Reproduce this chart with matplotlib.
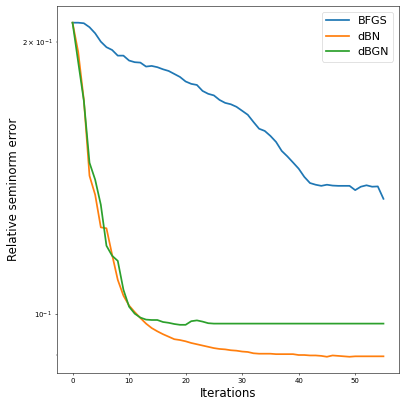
import matplotlib
matplotlib.use("Agg")
import matplotlib.pyplot as plt
import numpy as np

# relative seminorm error per iteration
iters = np.arange(56)

bfgs = [0.2099, 0.2099, 0.2096, 0.2075, 0.2043, 0.2000, 0.1972, 0.1958, 0.1930, 0.1930,
        0.1906, 0.1898, 0.1896, 0.1877, 0.1880, 0.1874, 0.1864, 0.1856, 0.1842, 0.1828,
        0.1807, 0.1796, 0.1791, 0.1764, 0.1751, 0.1744, 0.1724, 0.1711, 0.1705, 0.1694,
        0.1677, 0.1660, 0.1630, 0.1602, 0.1593, 0.1573, 0.1549, 0.1514, 0.1493, 0.1470,
        0.1447, 0.1417, 0.1395, 0.1389, 0.1385, 0.1389, 0.1386, 0.1385, 0.1385, 0.1385,
        0.1370, 0.1382, 0.1387, 0.1382, 0.1383, 0.1340]

dbn = [0.2099, 0.1948, 0.1724, 0.1421, 0.1354, 0.1246, 0.1243, 0.1162, 0.1090, 0.1047,
       0.1021, 0.1004, 0.0989, 0.0975, 0.0964, 0.0956, 0.0949, 0.0943, 0.0937, 0.0935,
       0.0932, 0.0928, 0.0925, 0.0922, 0.0919, 0.0916, 0.0914, 0.0913, 0.0911, 0.0910,
       0.0908, 0.0907, 0.0904, 0.0903, 0.0903, 0.0903, 0.0902, 0.0902, 0.0902, 0.0902,
       0.0900, 0.0900, 0.0899, 0.0899, 0.0898, 0.0896, 0.0899, 0.0898, 0.0897, 0.0896,
       0.0897, 0.0897, 0.0897, 0.0897, 0.0897, 0.0897]

dbgn = [0.2099, 0.1899, 0.1720, 0.1469, 0.1407, 0.1320, 0.1189, 0.1159, 0.1144, 0.1063,
        0.1018, 0.1000, 0.0990, 0.0985, 0.0984, 0.0984, 0.0979, 0.0977, 0.0974, 0.0972,
        0.0972, 0.0981, 0.0983, 0.0980, 0.0976] + [0.0975] * 31

fig = plt.figure(figsize=(8, 7.98), dpi=50)
ax = fig.add_axes([0.1425, 0.064, 0.855, 0.921])

ax.plot(iters, bfgs, label="BFGS", lw=2.5)
ax.plot(iters, dbn, label="dBN", lw=2.5)
ax.plot(iters, dbgn, label="dBGN", lw=2.5)
ax.set_yscale("log")

ax.set_xlabel("Iterations", fontsize=17)
ax.set_ylabel("Relative seminorm error", fontsize=17)
ax.legend(fontsize=16)

fig.savefig("out.png", dpi=50)
